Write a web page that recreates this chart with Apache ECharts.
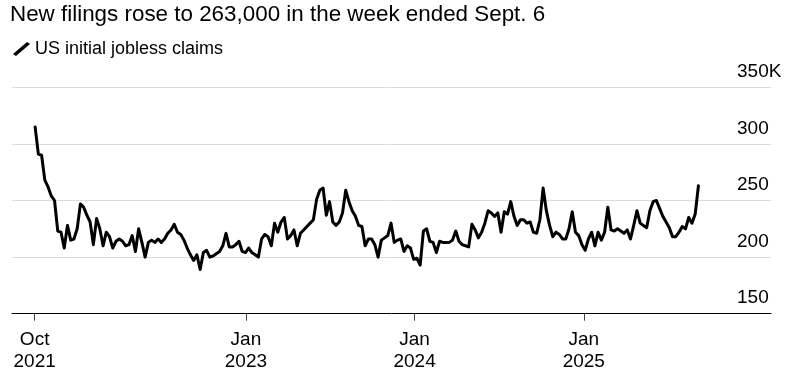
<!DOCTYPE html>
<html>
<head>
<meta charset="utf-8">
<script src="https://cdn.jsdelivr.net/npm/echarts@6/dist/echarts.min.js"></script>
<style>
html,body{margin:0;padding:0;background:#fff;}
#chart{width:794px;height:380px;}
</style>
</head>
<body>
<div id="chart"></div>
<script>
// Chart text
const titleText = 'New filings rose to 263,000 in the week ended Sept. 6';
const seriesName = 'US initial jobless claims';

// First week-ending date of the weekly series
const firstWeekEnding = '2021-10-02';

// Weekly initial jobless claims (thousands), week ending Oct 2 2021 ... Sep 6 2025
const claims = [
  315, 291, 290, 268, 262, 254, 250, 223, 222, 208,
  228, 215, 216, 225, 247, 244, 237, 231, 211, 234,
  225, 210, 222, 218, 208, 214, 216, 214, 210, 211,
  219, 205, 225, 213, 200, 213, 215, 213, 216, 213,
  216, 221, 224, 229, 222, 220, 215, 208, 202, 197,
  202, 189, 204, 206, 200, 201, 203, 205, 210, 221,
  209, 209, 211, 214, 205, 204, 208, 204, 202, 200,
  216, 220, 218, 210, 230, 222, 231, 235, 216, 219,
  224, 210, 221, 224, 227, 230, 233, 251, 259, 261,
  237, 249, 231, 228, 231, 239, 259, 249, 241, 236,
  228, 227, 210, 216, 216, 211, 200, 215, 217, 219,
  230, 213, 215, 216, 205, 210, 208, 198, 199, 193,
  223, 225, 214, 213, 204, 214, 213, 213, 213, 215,
  223, 214, 211, 210, 209, 229, 224, 217, 222, 230,
  241, 239, 236, 239, 222, 240, 238, 249, 236, 228,
  233, 233, 230, 231, 222, 221, 233, 261, 241, 228,
  218, 222, 220, 216, 216, 225, 240, 222, 219, 211,
  206, 216, 222, 210, 222, 215, 222, 244, 224, 223,
  225, 223, 221, 224, 216, 228, 241, 230, 228, 226,
  241, 249, 250, 243, 236, 231, 226, 218, 218, 222,
  227, 225, 235, 230, 238, 263
];

// X axis ticks
const xTickDates = ['2021-10-01', '2023-01-01', '2024-01-01', '2025-01-01'];
const xTickLabels = ['Oct\n2021', 'Jan\n2023', 'Jan\n2024', 'Jan\n2025'];
const xRange = ['2021-08-13', '2026-02-10'];

// Y axis
const yMin = 150, yMax = 350, yStep = 50;
const yTopSuffix = 'K';

// Dates are handled as day numbers on a value axis
function dayNum(s){ const [y,m,d] = s.split('-').map(Number); return Date.UTC(y, m-1, d) / 86400000; }
const start = dayNum(firstWeekEnding);
const seriesData = claims.map((v, i) => [start + i * 7, v]);
const tickDays = xTickDates.map(dayNum);

const chart = echarts.init(document.getElementById('chart'), null, {renderer: 'canvas'});
const FONT = 'Liberation Sans, Arial, Helvetica, sans-serif';

chart.setOption({
  animation: false,
  backgroundColor: '#fff',
  title: {
    text: titleText,
    left: 10,
    top: 3,
    padding: 0,
    textStyle: {fontFamily: FONT, fontSize: 22.4, fontWeight: 'normal', color: '#000', lineHeight: 24}
  },
  legend: {
    left: 13,
    top: 40,
    padding: 0,
    itemWidth: 17,
    itemHeight: 14,
    icon: 'path://M0,12 L14,0 L17,2 L3,14 Z',
    textStyle: {fontFamily: FONT, fontSize: 18, color: '#000'},
    data: [seriesName]
  },
  grid: {left: 12, right: 23, top: 87.3, bottom: 66.3, containLabel: false},
  xAxis: {
    type: 'value',
    min: dayNum(xRange[0]),
    max: dayNum(xRange[1]),
    axisLine: {show: true, lineStyle: {color: '#000', width: 1}},
    axisTick: {show: true, customValues: tickDays, length: 7, lineStyle: {color: '#444', width: 1}},
    axisLabel: {
      customValues: tickDays,
      fontFamily: FONT, fontSize: 19, color: '#000', lineHeight: 22, margin: 15,
      hideOverlap: false,
      showMinLabel: true, showMaxLabel: true,
      formatter: function (v) {
        const idx = tickDays.indexOf(v);
        return idx >= 0 ? xTickLabels[idx] : '';
      }
    },
    splitLine: {show: false}
  },
  yAxis: {
    type: 'value',
    position: 'right',
    min: yMin, max: yMax, interval: yStep,
    axisLine: {show: false},
    axisTick: {show: false},
    splitLine: {show: true, lineStyle: {color: '#dcdcdc', width: 1}},
    axisLabel: {
      inside: true,
      margin: 34,
      align: 'left',
      verticalAlign: 'bottom',
      padding: [0, 0, 6, 0],
      fontFamily: FONT, fontSize: 19, color: '#000',
      formatter: function (v) { return v === yMax ? v + yTopSuffix : String(v); }
    }
  },
  series: [{
    name: seriesName,
    type: 'line',
    data: seriesData,
    showSymbol: false,
    symbol: 'none',
    color: '#000',
    lineStyle: {color: '#000', width: 3, join: 'round', cap: 'round'},
    z: 3
  }]
});
</script>
</body>
</html>
